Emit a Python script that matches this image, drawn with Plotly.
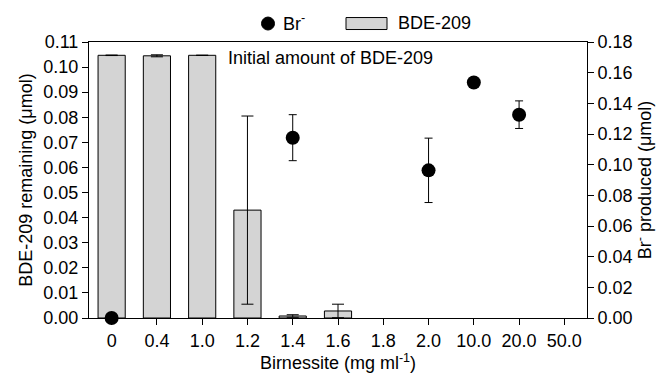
import plotly.graph_objects as go

categories = ["0", "0.4", "1.0", "1.2", "1.4", "1.6", "1.8", "2.0", "10.0", "20.0", "50.0"]
bde_remaining = [0.1047, 0.1045, 0.1047, 0.0430, 0.0008, 0.0028, None, None, None, None, None]
bde_error = [0.0001, 0.0004, 0.0, 0.0375, 0.0005, 0.0027, None, None, None, None, None]
br_produced = [0.0, None, None, None, 0.1176, None, None, 0.0963, 0.1536, 0.1326, None]
br_error = [0.0, None, None, None, 0.015, None, None, 0.021, 0.0, 0.009, None]

FONT = "Liberation Sans, Arial, sans-serif"
FS = 18

fig = go.Figure()
fig.add_trace(go.Bar(
    x=categories, y=bde_remaining, width=0.6,
    marker=dict(color="#d4d4d4", line=dict(color="black", width=1)),
    error_y=dict(type="data", array=bde_error, visible=True, color="black", thickness=1, width=6),
    showlegend=False, name="BDE-209",
))
fig.add_trace(go.Scatter(
    x=categories, y=br_produced, mode="markers", yaxis="y2",
    marker=dict(color="black", size=14),
    error_y=dict(type="data", array=br_error, visible=True, color="black", thickness=1, width=4),
    cliponaxis=False, showlegend=False, name="Br-",
))

W, H = 658, 374
L, R, T, B = 89, 71, 41.5, 56
pw, ph = W - L - R, H - T - B

def px(x):
    return (x - L) / pw

def py(y):
    return (H - B - y) / ph

shapes = [
    dict(type="circle", xref="paper", yref="paper",
         x0=px(268 - 6.5), x1=px(268 + 6.5), y0=py(23 + 6.5), y1=py(23 - 6.5),
         fillcolor="black", line=dict(color="black", width=1)),
    dict(type="rect", xref="paper", yref="paper",
         x0=px(346), x1=px(387), y0=py(29), y1=py(17),
         fillcolor="#d4d4d4", line=dict(color="black", width=1)),
]
annotations = [
    dict(text="Br<sup>-</sup>", xref="paper", yref="paper", x=px(281), y=py(22),
         xanchor="left", yanchor="middle", showarrow=False, font=dict(size=FS, family=FONT, color="black")),
    dict(text="BDE-209", xref="paper", yref="paper", x=px(396), y=py(22),
         xanchor="left", yanchor="middle", showarrow=False, font=dict(size=FS, family=FONT, color="black")),
    dict(text="Initial amount of BDE-209", xref="paper", yref="paper", x=px(226), y=py(58),
         xanchor="left", yanchor="middle", showarrow=False, font=dict(size=FS, family=FONT, color="black")),
]

fig.update_layout(
    width=W, height=H,
    margin=dict(l=L, r=R, t=T, b=B),
    paper_bgcolor="white", plot_bgcolor="white",
    font=dict(family=FONT, size=FS, color="black"),
    bargap=0.4,
    xaxis=dict(type="category", range=[-0.5, 10.5], showline=True, linecolor="black", linewidth=1,
               mirror=True, ticks="outside", ticklen=6, tickcolor="black", showgrid=False,
               title=dict(text="Birnessite (mg ml<sup>-1</sup>)", standoff=2, font=dict(size=FS)),
               automargin=False, tickfont=dict(size=FS)),
    yaxis=dict(range=[0, 0.11], dtick=0.01, tickformat=".2f", showline=True, linecolor="black",
               linewidth=1, ticks="outside", ticklen=6, tickcolor="black", showgrid=False, zeroline=False,
               title=dict(text="BDE-209 remaining (μmol)", standoff=6, font=dict(size=FS)),
               automargin=False, tickfont=dict(size=FS)),
    yaxis2=dict(range=[0, 0.18], dtick=0.02, tickformat=".2f", overlaying="y", side="right",
                showline=True, linecolor="black", linewidth=1, ticks="outside", ticklen=6,
                tickcolor="black", showgrid=False, zeroline=False,
                title=dict(text="Br<sup>-</sup> produced (μmol)", standoff=4, font=dict(size=FS)),
                automargin=False, tickfont=dict(size=FS)),
    shapes=shapes, annotations=annotations,
)

fig.write_html("out.html")
